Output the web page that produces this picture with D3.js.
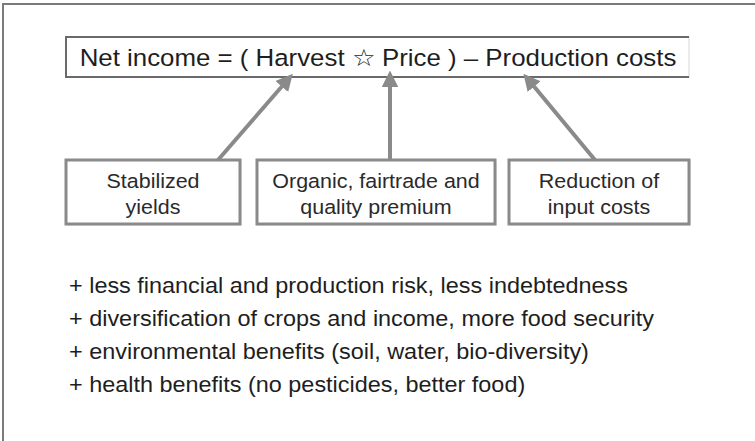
<!DOCTYPE html>
<html>
<head>
<meta charset="utf-8">
<script src="https://cdn.jsdelivr.net/npm/d3@7"></script>
<style>
  body { margin: 0; background: #fff; }
  svg { display: block; font-family: "Liberation Sans", Arial, sans-serif; }
</style>
</head>
<body>
<svg></svg>
<script>
let width = 755, height = 441

// diagram content
let formula = "Net income =  ( Harvest \u2606  Price ) \u2013 Production costs"
let boxLabels = [
    ["Stabilized", "yields"],
    ["Organic, fairtrade and", "quality premium"],
    ["Reduction of", "input costs"]
]
let benefits = [
    "+ less financial and production risk, less indebtedness",
    "+ diversification of crops and income, more food security",
    "+ environmental benefits (soil, water, bio-diversity)",
    "+ health benefits (no pesticides, better food)"
]

// the source picture is a bit stretched sideways
let stretch = 1.1

let svg = d3.select("svg").attr("width", width).attr("height", height)

svg.append("defs").append("marker")
    .attr("id", "head")
    .attr("viewBox", "0 0 10 10")
    .attr("refX", 2).attr("refY", 5)
    .attr("markerWidth", 4.2).attr("markerHeight", 4.2)
    .attr("markerUnits", "strokeWidth")
    .attr("orient", "auto")
    .append("path")
    .attr("d", "M0,0 L10,5 L0,10 z")
    .attr("fill", "#8a8a8a")

// outer frame (top and left only)
svg.append("path")
    .attr("d", `M3,${height} V4 H${width}`)
    .attr("fill", "none")
    .attr("stroke", "#7a7a7a")
    .attr("stroke-width", 2)

// formula box
let fBox = {x: 66, y: 37, w: 623, h: 40}
svg.append("rect")
    .attr("x", fBox.x).attr("y", fBox.y)
    .attr("width", fBox.w).attr("height", fBox.h)
    .attr("fill", "#fff")
    .attr("stroke", "#e4e4e4").attr("stroke-width", 1.5)
svg.append("path")
    .attr("d", `M${fBox.x + fBox.w},${fBox.y} H${fBox.x} V${fBox.y + fBox.h} H${fBox.x + fBox.w}`)
    .attr("fill", "none")
    .attr("stroke", "#6a6a6a").attr("stroke-width", 2)
svg.append("text")
    .attr("transform", `translate(${fBox.x + fBox.w / 2 + 0.5},${fBox.y + 29}) scale(${stretch},1)`)
    .attr("text-anchor", "middle")
    .attr("font-size", 23.5)
    .attr("fill", "#1e1e1e")
    .text(formula)

// lower boxes
let x = d3.scaleOrdinal().domain(d3.range(boxLabels.length)).range([66, 257, 509])
let boxW = d3.scaleOrdinal().domain(d3.range(boxLabels.length)).range([174, 238, 180])
let boxY = 160, boxH = 64

let boxes = svg.selectAll("g.box")
    .data(boxLabels)
    .join("g")
    .attr("class", "box")
    .attr("transform", (d, i) => `translate(${x(i)},${boxY})`)

boxes.append("rect")
    .attr("x", 1.5).attr("y", 1.5)
    .attr("width", (d, i) => boxW(i)).attr("height", boxH)
    .attr("fill", "#ddd")
boxes.append("rect")
    .attr("width", (d, i) => boxW(i)).attr("height", boxH)
    .attr("fill", "#fff")
    .attr("stroke", "#8a8a8a").attr("stroke-width", 3)

boxes.each(function(d, i) {
    d3.select(this).selectAll("text")
        .data(d)
        .join("text")
        .attr("transform", (t, j) => `translate(${boxW(i) / 2},${28 + j * 26}) scale(${stretch},1)`)
        .attr("text-anchor", "middle")
        .attr("font-size", 19.5)
        .attr("fill", "#2a2a2a")
        .text(t => t)
})

// arrows from boxes up to the formula
let arrowFrom = [[218, 160], [390, 160], [595, 160]]
let arrowTo = [[284, 84], [390, 84], [532, 84]]
svg.selectAll("line.arrow")
    .data(arrowFrom)
    .join("line")
    .attr("class", "arrow")
    .attr("x1", d => d[0]).attr("y1", d => d[1])
    .attr("x2", (d, i) => arrowTo[i][0]).attr("y2", (d, i) => arrowTo[i][1])
    .attr("stroke", "#8a8a8a").attr("stroke-width", 4)
    .attr("marker-end", "url(#head)")

// benefit list
let y = d3.scalePoint().domain(d3.range(benefits.length)).range([293, 392])
svg.selectAll("text.benefit")
    .data(benefits)
    .join("text")
    .attr("class", "benefit")
    .attr("transform", (d, i) => `translate(69,${y(i)}) scale(${stretch},1)`)
    .attr("font-size", 21.3)
    .attr("fill", "#1e1e1e")
    .text(d => d)
</script>
</body>
</html>
